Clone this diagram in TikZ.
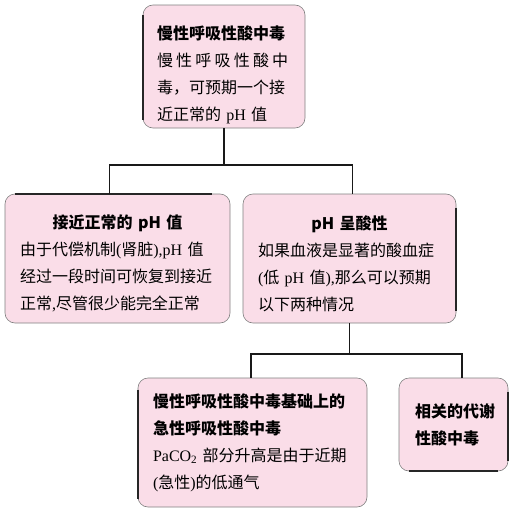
\documentclass[tikz,border=0pt]{standalone}
\usepackage{fontspec}
\setmainfont{Noto Sans CJK SC}
\newfontfamily\lat{Liberation Serif}
\newcommand{\wide}{\addfontfeature{LetterSpace=20}}
\newcommand{\lift}[1]{\rule{0pt}{#1}}
\setlength{\parindent}{0pt}
\definecolor{boxpink}{RGB}{250,221,232}
\tikzstyle{card}=[draw=black!50, line width=0.6pt, fill=boxpink, rounded corners=10pt, inner xsep=14pt, inner ysep=0pt, align=left, font=\fontsize{16}{27}\selectfont]
\tikzstyle{link}=[draw=black!90, line width=1.2pt]
\tikzstyle{rim}=[draw=black!85, line width=1.8pt]

\begin{document}
\begin{tikzpicture}[x=1pt,y=-1pt]
\useasboundingbox (0,0) rectangle (513,514);
\node[card, text width=134pt, minimum width=162pt, minimum height=123pt] (top) at (224,66.5)
  {\lift{30pt}\textbf{慢性呼吸性酸中毒}\\{\wide 慢性呼吸性酸中}\\毒，可预期一个接\\近正常的 {\lat pH} 值};
\node[card, inner xsep=15pt, text width=195pt, minimum width=225pt, minimum height=129pt] (lm) at (117.5,258.5)
  {\lift{24pt}\hfill\textbf{接近正常的 pH 值}\hfill\null\\由于代偿机制{\lat (}肾脏{\lat ),pH} 值\\经过一段时间可恢复到接近\\正常{\lat ,}尽管很少能完全正常};
\node[card, inner xsep=15pt, text width=183pt, minimum width=213pt, minimum height=129pt] (rm) at (349.5,258.5)
  {\lift{24pt}\hfill\textbf{pH 呈酸性}\hfill\null\\如果血液是显著的酸血症\\{\lat (}低 {\lat pH} 值{\lat ),}那么可以预期\\以下两种情况};
\node[card, inner xsep=15pt, text width=199pt, minimum width=229pt, minimum height=129pt] (bl) at (252.5,442.5)
  {\textbf{慢性呼吸性酸中毒基础上的}\\\textbf{急性呼吸性酸中毒}\\{\lat PaCO\textsubscript{2}} 部分升高是由于近期\\{\lat (}急性{\lat )}的低通气};
\node[card, inner xsep=16pt, text width=77pt, minimum width=109pt, minimum height=93pt] (sm) at (453.5,424.5)
  {\textbf{相关的代谢}\\\textbf{性酸中毒}};
% dark edges
\draw[rim] ([yshift=-10pt]top.north west) -- ([yshift=8pt]top.south west);
\draw[rim] ([xshift=10pt]lm.north west) -- ([xshift=-18pt]lm.north east);
\draw[rim] ([yshift=-14pt]rm.north east) -- ([yshift=12pt]rm.south east);
\draw[rim] ([yshift=-12pt]bl.north west) -- ([yshift=8pt]bl.south west);
\draw[rim] ([yshift=-14pt]sm.north east) -- ([yshift=10pt]sm.south east);
\draw[rim] ([xshift=10pt]sm.south west) -- ([xshift=-10pt]sm.south east);
% connectors
\coordinate (j1) at (224,165);
\coordinate (j2) at (349.5,354);
\draw[link] (top.south) -- (j1);
\draw[link] ([xshift=-8pt]lm.north) |- (j1) -| ([xshift=3pt]rm.north);
\draw[link, line width=1.8pt] (rm.south) -- (j2);
\draw[link, line width=1.8pt] ([xshift=-1.5pt]bl.north) |- (j2) -| ([xshift=8.5pt]sm.north);
\end{tikzpicture}
\end{document}
